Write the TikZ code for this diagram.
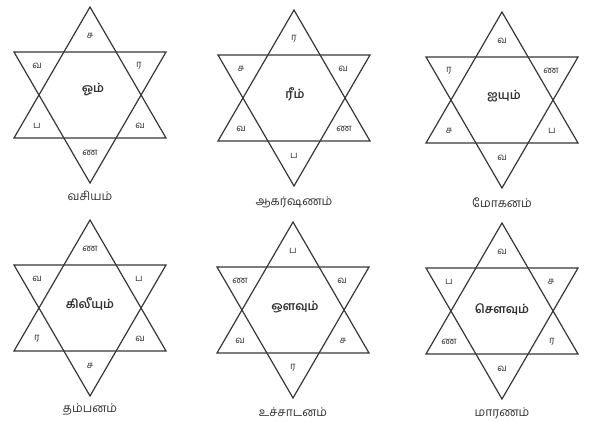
\documentclass[tikz,border=0pt]{standalone}
\usepackage{fontspec}
\newfontfamily\tamilfont[Script=Tamil]{Hind Madurai}
\tikzset{
  starline/.style={draw=black!78, line width=1.2pt, line join=miter},
  letter/.style={font=\tamilfont\fontsize{9.5}{10}\selectfont, text=black!80, inner sep=0pt},
  centre/.style={font=\tamilfont\fontsize{12}{13}\selectfont\bfseries, text=black!80, inner sep=0pt},
  caption/.style={font=\tamilfont\fontsize{12}{13}\selectfont, text=black!80, inner sep=0pt}
}
% #1 name, #2 cx, #3 cy, #4..#9 letters clockwise from the top point
\newcommand{\hexstar}[9]{%
  \begin{scope}[shift={(#2,#3)}]
    \coordinate (#1) at (0,0);
    \coordinate (#1t) at (0,-88);
    \coordinate (#1b) at (0,88);
    \coordinate (#1ul) at (-76,-43);
    \coordinate (#1ur) at (76,-43);
    \coordinate (#1ll) at (-76,43);
    \coordinate (#1lr) at (76,43);
    \draw[starline] (#1t) -- (#1lr) -- (#1ll) -- cycle;
    \draw[starline] (#1b) -- (#1ur) -- (#1ul) -- cycle;
    \node[letter] (#1a) at (0,-59) {#4};
    \node[letter] (#1c) at (49,-29) {#5};
    \node[letter] (#1d) at (50,31) {#6};
    \node[letter] (#1e) at (0,58) {#7};
    \node[letter] (#1f) at (-53,31) {#8};
    \node[letter] (#1g) at (-53,-29) {#9};
  \end{scope}}
\begin{document}
\begin{tikzpicture}[x=1pt,y=-1pt]
  \fill[white] (0,0) rectangle (598,422);
  \useasboundingbox (0,0) rectangle (598,422);

  \hexstar{s1}{90}{95}{ச}{ர}{வ}{ண}{ப}{வ}
  \node[centre] (s1m) at (93,90) {ஓம்};
  \node[caption] (s1n) at (90,196) {வசியம்};

  \hexstar{s2}{294}{98}{ர}{வ}{ண}{ப}{வ}{ச}
  \node[centre] (s2m) at (295,94) {ரீம்};
  \node[caption] (s2n) at (294,202) {ஆகர்ஷணம்};

  \hexstar{s3}{502}{100}{வ}{ண}{ப}{வ}{ச}{ர}
  \node[centre] (s3m) at (504,96) {ஐயும்};
  \node[caption] (s3n) at (502,203) {மோகனம்};

  \hexstar{s4}{90}{308}{ண}{ப}{வ}{ச}{ர}{வ}
  \node[centre] (s4m) at (90,304) {கிலீயும்};
  \node[caption] (s4n) at (90,410) {தம்பனம்};

  \hexstar{s5}{293}{310}{ப}{வ}{ச}{ர}{வ}{ண}
  \node[centre] (s5m) at (295,307) {ஔவும்};
  \node[caption] (s5n) at (293,412) {உச்சாடனம்};

  \hexstar{s6}{502}{311}{வ}{ச}{ர}{வ}{ண}{ப}
  \node[centre] (s6m) at (502,309) {சௌவும்};
  \node[caption] (s6n) at (502,413) {மாரணம்};
\end{tikzpicture}
\end{document}
